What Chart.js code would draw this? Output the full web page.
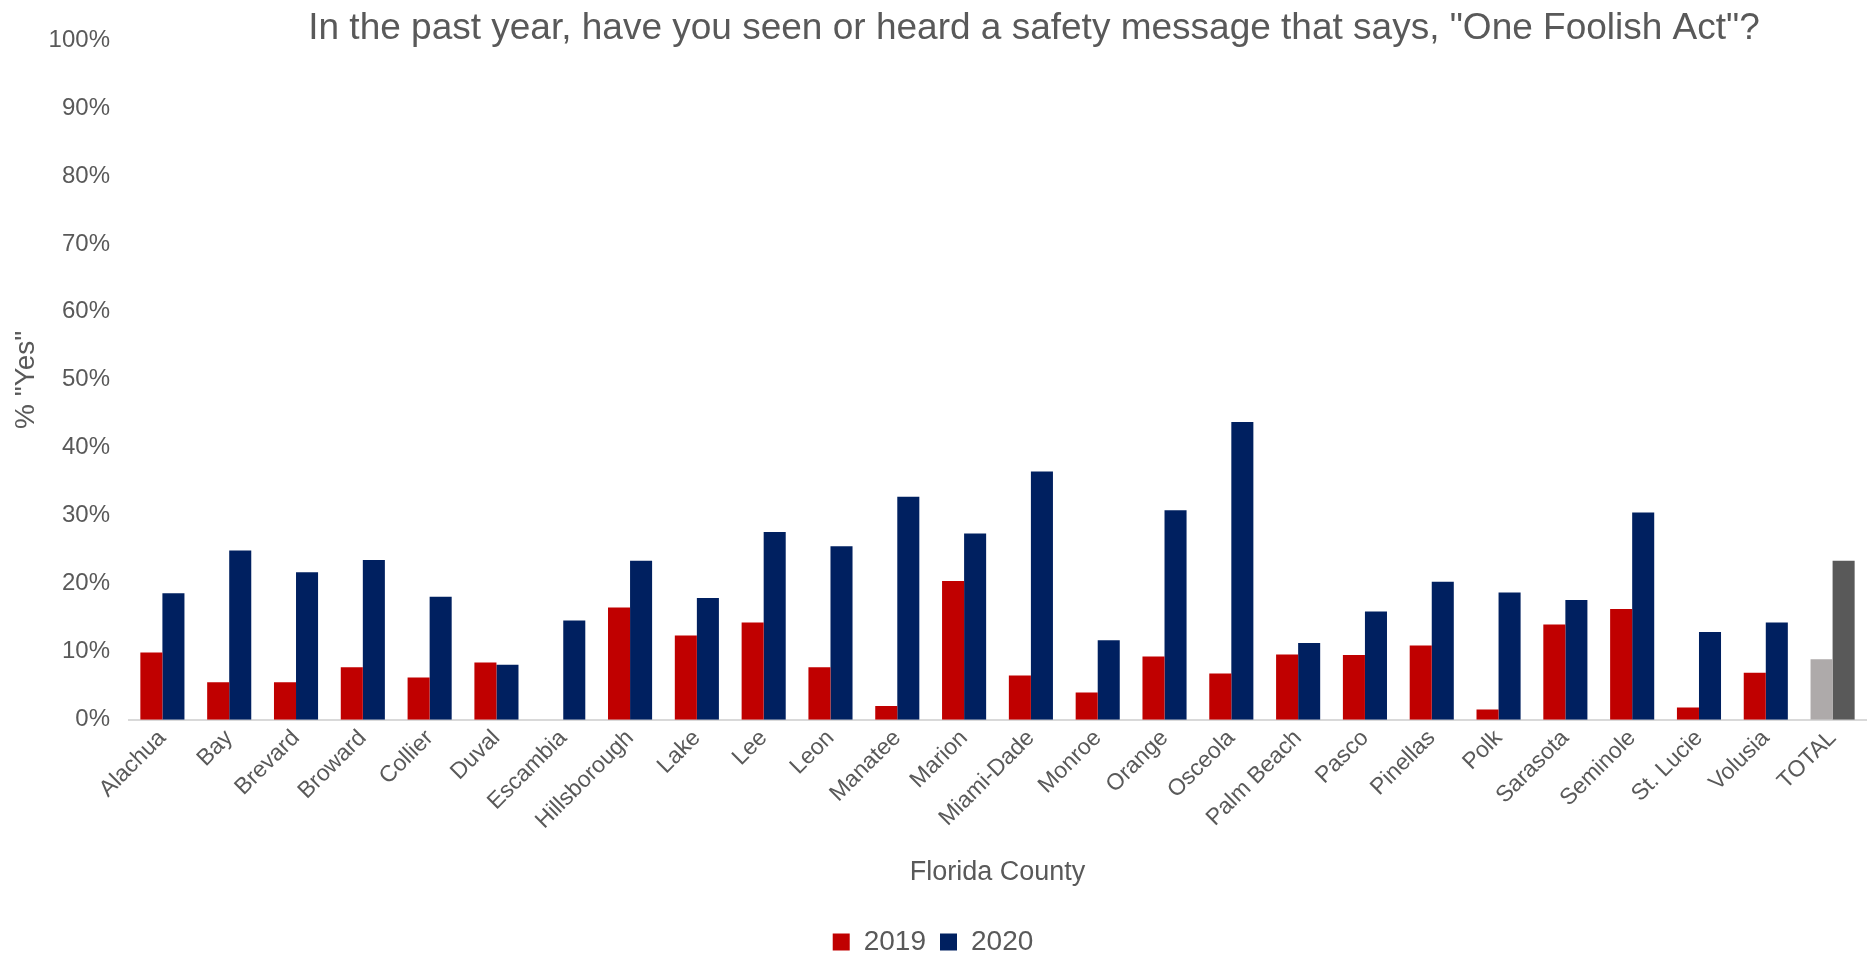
<!DOCTYPE html>
<html>
<head>
<meta charset="utf-8">
<title>One Foolish Act</title>
<script src="https://cdn.jsdelivr.net/npm/chart.js@4"></script>
<style>
  html, body { margin: 0; padding: 0; background: #fff; }
  #wrap { width: 1869px; height: 954px; position: relative; }
</style>
</head>
<body>
<div id="wrap"><canvas id="awarenessChart"></canvas></div>
<script>
// counties surveyed, plus the statewide total at the end
const counties = ['Alachua', 'Bay', 'Brevard', 'Broward', 'Collier', 'Duval', 'Escambia',
    'Hillsborough', 'Lake', 'Lee', 'Leon', 'Manatee', 'Marion', 'Miami-Dade', 'Monroe',
    'Orange', 'Osceola', 'Palm Beach', 'Pasco', 'Pinellas', 'Polk', 'Sarasota', 'Seminole',
    'St. Lucie', 'Volusia', 'TOTAL'];

// % answering "Yes"
const yes2019 = [9.9, 5.5, 5.5, 7.7, 6.2, 8.4, 0, 16.5, 12.4, 14.3, 7.7, 2.0, 20.4, 6.5, 4.0,
    9.3, 6.8, 9.6, 9.5, 10.9, 1.5, 14.0, 16.3, 1.8, 6.9, 8.9];
const yes2020 = [18.6, 24.9, 21.7, 23.5, 18.1, 8.1, 14.6, 23.4, 17.9, 27.6, 25.5, 32.8, 27.4,
    36.5, 11.7, 30.8, 43.8, 11.3, 15.9, 20.3, 18.7, 17.6, 30.5, 12.9, 14.3, 23.4];

const yTicks = [0, 10, 20, 30, 40, 50, 60, 70, 80, 90, 100];

const RED = '#c00000';
const NAVY = '#002060';
const TOTAL_LIGHT = '#aeaaaa';
const TOTAL_DARK = '#595959';
const TEXT = '#595959';
const FONT = "'Liberation Sans', Arial, sans-serif";

// the TOTAL column is drawn in greys
function colorsFor(base, totalColor) {
    return counties.map(c => c === 'TOTAL' ? totalColor : base);
}

// title sits over the plot area rather than taking layout space
const titlePlugin = {
    id: 'floatingTitle',
    afterDraw(chart) {
        const c = chart.ctx;
        c.save();
        c.font = '37px ' + FONT;
        c.fillStyle = TEXT;
        c.textAlign = 'center';
        c.textBaseline = 'middle';
        c.fillText('In the past year, have you seen or heard a safety message that says, "One Foolish Act"?', 1034, 29);
        c.restore();
    }
};

const ctx = document.getElementById('awarenessChart');
new Chart(ctx.getContext('2d'), {
    type: 'bar',
    data: {
        labels: counties,
        datasets: [{
            label: '2019',
            data: yes2019,
            backgroundColor: colorsFor(RED, TOTAL_LIGHT),
            borderWidth: 0,
            categoryPercentage: 0.66,
            barPercentage: 1.0
        }, {
            label: '2020',
            data: yes2020,
            backgroundColor: colorsFor(NAVY, TOTAL_DARK),
            borderWidth: 0,
            categoryPercentage: 0.66,
            barPercentage: 1.0
        }]
    },
    options: {
        responsive: true,
        maintainAspectRatio: false,
        animation: false,
        layout: { padding: { top: 40, right: 3, left: 0, bottom: -12 } },
        scales: {
            y: {
                min: 0,
                max: 100,
                afterBuildTicks(axis) { axis.ticks = yTicks.map(v => ({ value: v })); },
                afterFit(scale) { scale.width = 129; },
                grid: { display: false, drawTicks: false },
                border: { display: false },
                ticks: {
                    color: TEXT,
                    font: { family: FONT, size: 24 },
                    padding: 19,
                    callback: v => v + '%'
                },
                title: {
                    display: true,
                    text: '% "Yes"',
                    color: TEXT,
                    font: { family: FONT, size: 28 },
                    padding: { top: 9, bottom: 7 }
                }
            },
            x: {
                // let the slanted first label hang past the y axis instead of pushing the plot right
                afterFit(scale) {
                    scale.paddingLeft = 0;
                    scale.paddingRight = 0;
                },
                grid: { display: false, drawTicks: false },
                border: { display: true, color: '#d9d9d9', width: 2 },
                ticks: {
                    color: TEXT,
                    font: { family: FONT, size: 23 },
                    minRotation: 45,
                    maxRotation: 45,
                    autoSkip: false,
                    padding: 5
                },
                title: {
                    display: true,
                    text: 'Florida County',
                    color: TEXT,
                    font: { family: FONT, size: 27 },
                    padding: { top: 17, bottom: 25 }
                }
            }
        },
        plugins: {
            legend: {
                display: true,
                position: 'bottom',
                labels: {
                    color: TEXT,
                    font: { family: FONT, size: 28 },
                    boxWidth: 17,
                    boxHeight: 17,
                    padding: 14
                }
            },
            tooltip: { enabled: false }
        }
    },
    plugins: [titlePlugin]
});
</script>
</body>
</html>
